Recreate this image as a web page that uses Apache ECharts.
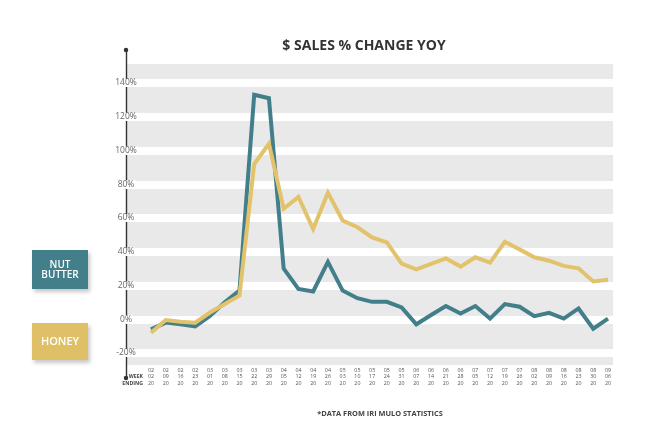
<!DOCTYPE html>
<html>
<head>
<meta charset="utf-8">
<script src="https://cdn.jsdelivr.net/npm/echarts@6/dist/echarts.min.js"></script>
<style>html,body{margin:0;padding:0;background:#fff}#c{width:648px;height:437px}</style>
</head>
<body>
<div id="c"></div>
<script>
const categories = ['02/02/20','02/09/20','02/16/20','02/23/20','03/01/20','03/08/20','03/15/20','03/22/20','03/29/20','04/05/20','04/12/20','04/19/20','04/26/20','05/03/20','05/10/20','05/17/20','05/24/20','05/31/20','06/07/20','06/14/20','06/21/20','06/28/20','07/05/20','07/12/20','07/19/20','07/26/20','08/02/20','08/09/20','08/16/20','08/23/20','08/30/20','09/06/20'];
const nutButter = [-6, -2, -3, -4.3, 2, 10, 17, 133, 131, 30, 18, 16.5, 34, 17, 12.5, 10.3, 10.3, 7, -3, 2.5, 7.8, 3.4, 7.8, 0.4, 9, 7.4, 1.8, 3.8, 0.4, 6.4, -5.6, 0.4];
const honey = [-8, -0.5, -1.5, -2, 4, 9, 14, 92, 104, 65.5, 72.5, 53.5, 75, 58.5, 54.5, 48.5, 45.5, 33, 29.6, 32.8, 36.1, 31.2, 36.7, 33.5, 45.9, 41.4, 36.7, 34.7, 31.6, 30.2, 22.4, 23.4];
const yTicks = [-20, 0, 20, 40, 60, 80, 100, 120, 140];
const seriesNames = ['NUT BUTTER', 'HONEY'];
const titleText = '$ SALES % CHANGE YOY';
const footnote = '*DATA FROM IRI MULO STATISTICS';
const xAxisName = 'WEEK\nENDING';

const TEAL = '#437f8a';
const GOLD = '#e2c36b';
const FONT = '"Open Sans", "DejaVu Sans", sans-serif';
const yMin = yTicks[0], yMax = yTicks[yTicks.length - 1], yStep = yTicks[1] - yTicks[0];

const chart = echarts.init(document.getElementById('c'), null, {renderer: 'canvas'});
const hiddenX = i => ({type: 'value', gridIndex: i, show: false, min: 0, max: 1});

chart.setOption({
  animation: false,
  backgroundColor: '#fff',
  title: [
    {text: titleText, left: 359, top: 34, textAlign: 'center',
     textStyle: {fontFamily: FONT, fontWeight: 700, fontSize: 14, color: '#333'}},
    {text: footnote, left: 375, top: 405, textAlign: 'center',
     textStyle: {fontFamily: FONT, fontWeight: 700, fontSize: 7.4, color: '#444'}}
  ],
  grid: [
    {left: 126, right: 35, top: 64, bottom: 72, show: true, backgroundColor: '#e9e9e9', borderWidth: 0},
    {left: 126, right: 35, top: 83, bottom: 84},
    {left: 126, right: 35, top: 50, bottom: 59},
    {left: 151, right: 40, top: 83, bottom: 84}
  ],
  xAxis: [
    hiddenX(0), hiddenX(1), hiddenX(2),
    {type: 'category', gridIndex: 3, data: categories, boundaryGap: false,
     axisLine: {show: false, onZero: false}, axisTick: {show: false},
     axisLabel: {interval: 0, margin: 14, fontFamily: FONT, fontSize: 5.3, lineHeight: 6.5, color: '#555',
       formatter: v => v.split('/').join('\n')}}
  ],
  yAxis: [
    {type: 'value', gridIndex: 0, show: false, min: 0, max: 1},
    {type: 'value', gridIndex: 1, min: yMin, max: yMax, interval: yStep, z: 2,
     axisLine: {show: false}, axisTick: {show: false},
     splitLine: {show: true, lineStyle: {color: '#ffffff', width: 8}},
     axisLabel: {formatter: '{value}%', margin: 0, align: 'center', fontFamily: FONT, fontSize: 8.5, lineHeight: 8,
       color: '#666', backgroundColor: '#ffffff', padding: [0, 1]}},
    {type: 'value', gridIndex: 2, min: 0, max: 1, z: 1,
     axisLine: {show: true, symbol: ['circle', 'circle'], symbolSize: [4.5, 4.5], lineStyle: {color: '#333', width: 1.4}},
     axisTick: {show: false}, axisLabel: {show: false}, splitLine: {show: false}},
    {type: 'value', gridIndex: 3, min: yMin, max: yMax, interval: yStep, show: false}
  ],
  series: [
    {name: seriesNames[0], type: 'line', xAxisIndex: 3, yAxisIndex: 3, data: nutButter, symbol: 'none', z: 3,
     lineStyle: {color: TEAL, width: 4, join: 'miter'}},
    {name: seriesNames[1], type: 'line', xAxisIndex: 3, yAxisIndex: 3, data: honey, symbol: 'none', z: 4,
     lineStyle: {color: GOLD, width: 4, join: 'miter'}}
  ],
  graphic: [
    {type: 'text', x: 143, y: 380,
     style: {text: xAxisName, fill: '#444', fontFamily: FONT, fontWeight: 700, fontSize: 5.2, lineHeight: 7, align: 'right', verticalAlign: 'middle'}},
    {type: 'group', left: 32, top: 250, children: [
      {type: 'rect', shape: {x: 0, y: 0, width: 56, height: 39},
       style: {fill: TEAL, shadowBlur: 4, shadowOffsetX: 2, shadowOffsetY: 3, shadowColor: 'rgba(0,0,0,0.22)'}},
      {type: 'text', x: 28, y: 20,
       style: {text: seriesNames[0].replace(' ', '\n'), fill: '#fff', fontFamily: FONT, fontWeight: 600, fontSize: 10, lineHeight: 10.5, align: 'center', verticalAlign: 'middle'}}
    ]},
    {type: 'group', left: 32, top: 323, children: [
      {type: 'rect', shape: {x: 0, y: 0, width: 56, height: 37},
       style: {fill: '#dfc066', shadowBlur: 4, shadowOffsetX: 2, shadowOffsetY: 3, shadowColor: 'rgba(0,0,0,0.22)'}},
      {type: 'text', x: 28, y: 19,
       style: {text: seriesNames[1], fill: '#fff', fontFamily: FONT, fontWeight: 600, fontSize: 11, align: 'center', verticalAlign: 'middle'}}
    ]}
  ]
});
</script>
</body>
</html>
